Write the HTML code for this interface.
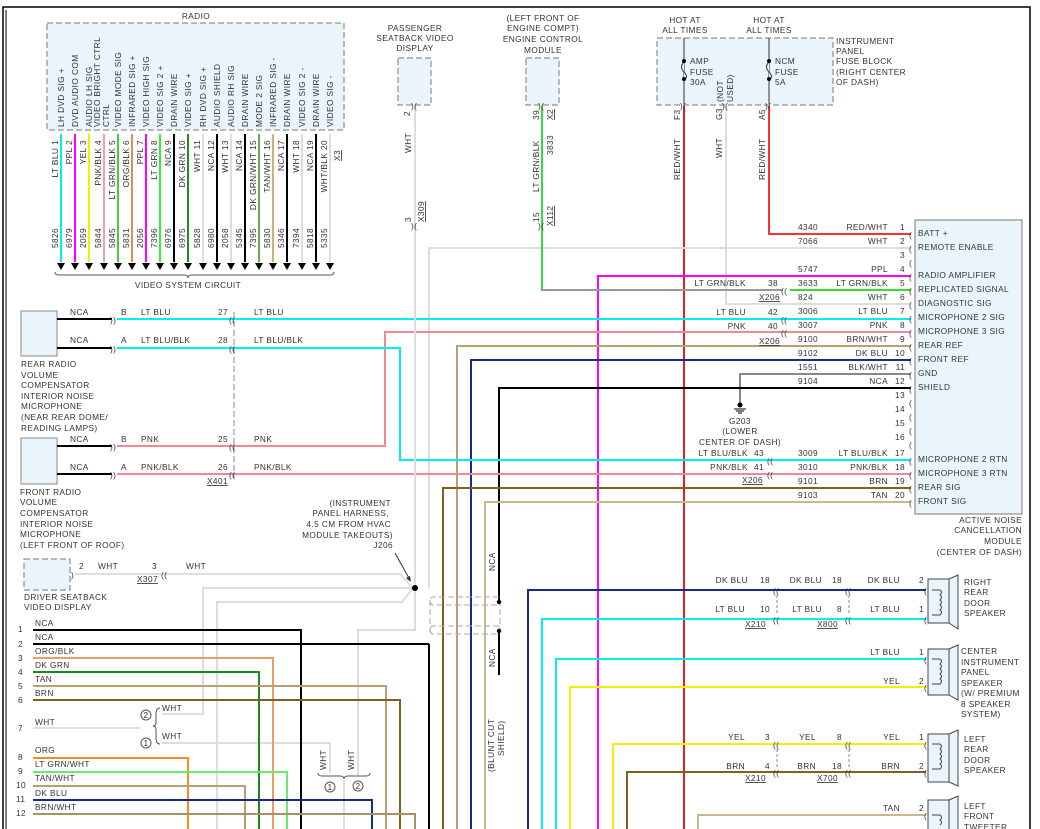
<!DOCTYPE html>
<html><head><meta charset="utf-8"><style>
html,body{margin:0;padding:0;background:#fff}
svg{display:block}
text{font-family:"Liberation Sans",sans-serif;font-size:8.3px;fill:#333;letter-spacing:0.4px}
.w{fill:none;stroke-width:2}
.c{font-size:10px}
</style></head><body>
<svg width="1040" height="829" viewBox="0 0 1040 829" xmlns="http://www.w3.org/2000/svg">
<rect width="1040" height="829" fill="#fff"/>
<!-- frame -->
<path d="M3,829 V7 H1030 V829" fill="none" stroke="#000" stroke-width="1.5"/>
<line x1="6" y1="10" x2="6" y2="829" stroke="#000" stroke-width="1"/>

<!-- RADIO -->
<text x="196" y="19" text-anchor="middle">RADIO</text>
<rect x="47" y="23" width="297" height="107" fill="#eaf5fb" stroke="#777" stroke-dasharray="6,3"/>
<g class="w">
<line x1="61" y1="134" x2="61" y2="262" stroke="#00f0f0"/>
<line x1="75" y1="134" x2="75" y2="262" stroke="#ff00ff"/>
<line x1="89" y1="134" x2="89" y2="262" stroke="#f0f000"/>
<line x1="104" y1="134" x2="104" y2="262" stroke="#f4a0a8"/>
<line x1="118" y1="134" x2="118" y2="262" stroke="#44cc44"/>
<line x1="132" y1="134" x2="132" y2="262" stroke="#e0904a"/>
<line x1="146" y1="134" x2="146" y2="262" stroke="#ff00ff"/>
<line x1="160" y1="134" x2="160" y2="262" stroke="#33ee33"/>
<line x1="174" y1="134" x2="174" y2="262" stroke="#000"/>
<line x1="188" y1="134" x2="188" y2="262" stroke="#228b22"/>
<line x1="203" y1="134" x2="203" y2="262" stroke="#ddd"/>
<line x1="217" y1="134" x2="217" y2="262" stroke="#000"/>
<line x1="231" y1="134" x2="231" y2="262" stroke="#ddd"/>
<line x1="245" y1="134" x2="245" y2="262" stroke="#000"/>
<line x1="259" y1="134" x2="259" y2="262" stroke="#66aa55"/>
<line x1="273" y1="134" x2="273" y2="262" stroke="#c8b080"/>
<line x1="287" y1="134" x2="287" y2="262" stroke="#000"/>
<line x1="302" y1="134" x2="302" y2="262" stroke="#ddd"/>
<line x1="316" y1="134" x2="316" y2="262" stroke="#000"/>
<line x1="330" y1="134" x2="330" y2="262" stroke="#ddd"/>
</g>
<g fill="#000">
<path d="M57,263h8l-4,7z"/><path d="M71,263h8l-4,7z"/><path d="M85,263h8l-4,7z"/><path d="M100,263h8l-4,7z"/><path d="M114,263h8l-4,7z"/><path d="M128,263h8l-4,7z"/><path d="M142,263h8l-4,7z"/><path d="M156,263h8l-4,7z"/><path d="M170,263h8l-4,7z"/><path d="M184,263h8l-4,7z"/><path d="M199,263h8l-4,7z"/><path d="M213,263h8l-4,7z"/><path d="M227,263h8l-4,7z"/><path d="M241,263h8l-4,7z"/><path d="M255,263h8l-4,7z"/><path d="M269,263h8l-4,7z"/><path d="M283,263h8l-4,7z"/><path d="M298,263h8l-4,7z"/><path d="M312,263h8l-4,7z"/><path d="M326,263h8l-4,7z"/>
</g>
<path d="M55,272 q0,3 4,3 H184 q4,0 4,3 q0,-3 4,-3 H330 q4,0 4,-3" fill="none" stroke="#555"/>
<text x="188" y="288" text-anchor="middle">VIDEO SYSTEM CIRCUIT</text>
<g>
<text transform="translate(64,127) rotate(-90)">LH DVD SIG +</text>
<text transform="translate(78,127) rotate(-90)">DVD AUDIO COM</text>
<text transform="translate(92,127) rotate(-90)">AUDIO LH SIG</text>
<text transform="translate(100,127) rotate(-90)">VIDEO BRIGHT CTRL</text>
<text transform="translate(109,127) rotate(-90)">CTRL</text>
<text transform="translate(121,127) rotate(-90)">VIDEO MODE SIG</text>
<text transform="translate(135,127) rotate(-90)">INFRARED SIG +</text>
<text transform="translate(149,127) rotate(-90)">VIDEO HIGH SIG</text>
<text transform="translate(163,127) rotate(-90)">VIDEO SIG 2 +</text>
<text transform="translate(177,127) rotate(-90)">DRAIN WIRE</text>
<text transform="translate(191,127) rotate(-90)">VIDEO SIG +</text>
<text transform="translate(206,127) rotate(-90)">RH DVD SIG +</text>
<text transform="translate(220,127) rotate(-90)">AUDIO SHIELD</text>
<text transform="translate(234,127) rotate(-90)">AUDIO RH SIG</text>
<text transform="translate(248,127) rotate(-90)">DRAIN WIRE</text>
<text transform="translate(262,127) rotate(-90)">MODE 2 SIG</text>
<text transform="translate(276,127) rotate(-90)">INFRARED SIG -</text>
<text transform="translate(290,127) rotate(-90)">DRAIN WIRE</text>
<text transform="translate(305,127) rotate(-90)">VIDEO SIG 2 -</text>
<text transform="translate(319,127) rotate(-90)">DRAIN WIRE</text>
<text transform="translate(333,127) rotate(-90)">VIDEO SIG -</text>
</g>
<g text-anchor="end">
<text transform="translate(58,140) rotate(-90)">LT BLU  1</text>
<text transform="translate(72,140) rotate(-90)">PPL  2</text>
<text transform="translate(86,140) rotate(-90)">YEL  3</text>
<text transform="translate(101,140) rotate(-90)">PNK/BLK  4</text>
<text transform="translate(115,140) rotate(-90)">LT GRN/BLK  5</text>
<text transform="translate(129,140) rotate(-90)">ORG/BLK  6</text>
<text transform="translate(143,140) rotate(-90)">PPL  7</text>
<text transform="translate(157,140) rotate(-90)">LT GRN  8</text>
<text transform="translate(171,140) rotate(-90)">NCA  9</text>
<text transform="translate(185,140) rotate(-90)">DK GRN  10</text>
<text transform="translate(200,140) rotate(-90)">WHT  11</text>
<text transform="translate(214,140) rotate(-90)">NCA  12</text>
<text transform="translate(228,140) rotate(-90)">WHT  13</text>
<text transform="translate(242,140) rotate(-90)">NCA  14</text>
<text transform="translate(256,140) rotate(-90)">DK GRN/WHT  15</text>
<text transform="translate(270,140) rotate(-90)">TAN/WHT  16</text>
<text transform="translate(284,140) rotate(-90)">NCA  17</text>
<text transform="translate(299,140) rotate(-90)">WHT  18</text>
<text transform="translate(313,140) rotate(-90)">NCA  19</text>
<text transform="translate(327,140) rotate(-90)">WHT/BLK  20</text>
<text transform="translate(340,150) rotate(-90)" text-decoration="underline">X3</text>
</g>
<g fill="#7a4a30">
<text transform="translate(58,248) rotate(-90)">5826</text>
<text transform="translate(72,248) rotate(-90)">6979</text>
<text transform="translate(86,248) rotate(-90)">2059</text>
<text transform="translate(101,248) rotate(-90)">5844</text>
<text transform="translate(115,248) rotate(-90)">5845</text>
<text transform="translate(129,248) rotate(-90)">5831</text>
<text transform="translate(143,248) rotate(-90)">2056</text>
<text transform="translate(157,248) rotate(-90)">7396</text>
<text transform="translate(171,248) rotate(-90)">6976</text>
<text transform="translate(185,248) rotate(-90)">6975</text>
<text transform="translate(200,248) rotate(-90)">5828</text>
<text transform="translate(214,248) rotate(-90)">6980</text>
<text transform="translate(228,248) rotate(-90)">2058</text>
<text transform="translate(242,248) rotate(-90)">5345</text>
<text transform="translate(256,248) rotate(-90)">7395</text>
<text transform="translate(270,248) rotate(-90)">5830</text>
<text transform="translate(284,248) rotate(-90)">5346</text>
<text transform="translate(299,248) rotate(-90)">7394</text>
<text transform="translate(313,248) rotate(-90)">5818</text>
<text transform="translate(327,248) rotate(-90)">5335</text>
</g>

<!-- Passenger seatback -->
<text x="415" y="31" text-anchor="middle">PASSENGER</text>
<text x="415" y="41" text-anchor="middle">SEATBACK VIDEO</text>
<text x="415" y="51" text-anchor="middle">DISPLAY</text>
<rect x="398" y="58" width="33" height="47" fill="#eaf5fb" stroke="#777" stroke-dasharray="6,3"/>
<text x="410" y="116" transform="rotate(-90 410 116)">2</text>
<text transform="translate(411,153) rotate(-90)">WHT</text>
<text transform="translate(411,222) rotate(-90)">3</text>
<text transform="translate(424,222) rotate(-90)" text-decoration="underline">X309</text>
<!-- ECM -->
<text x="543" y="21" text-anchor="middle">(LEFT FRONT OF</text>
<text x="543" y="31" text-anchor="middle">ENGINE COMPT)</text>
<text x="543" y="42" text-anchor="middle">ENGINE CONTROL</text>
<text x="543" y="53" text-anchor="middle">MODULE</text>
<rect x="526" y="58" width="33" height="47" fill="#eaf5fb" stroke="#777" stroke-dasharray="6,3"/>
<text transform="translate(539,120) rotate(-90)">39</text>
<text transform="translate(553,120) rotate(-90)" text-decoration="underline">X2</text>
<text transform="translate(539,192) rotate(-90)">LT GRN/BLK</text>
<text transform="translate(553,155) rotate(-90)">3833</text>
<text transform="translate(539,222) rotate(-90)">15</text>
<text transform="translate(553,226) rotate(-90)" text-decoration="underline">X112</text>
<!-- Fuse block -->
<text x="685" y="23" text-anchor="middle">HOT AT</text>
<text x="685" y="33" text-anchor="middle">ALL TIMES</text>
<text x="769" y="23" text-anchor="middle">HOT AT</text>
<text x="769" y="33" text-anchor="middle">ALL TIMES</text>
<rect x="657" y="38" width="176" height="67" fill="#eaf5fb" stroke="#777" stroke-dasharray="6,3"/>
<line x1="684" y1="38" x2="684" y2="104" stroke="#333"/>
<line x1="769" y1="38" x2="769" y2="104" stroke="#333"/>
<path d="M684,62 q-5,5 0,10 q5,5 0,8" fill="#eaf5fb" stroke="#333"/>
<path d="M769,62 q-5,5 0,10 q5,5 0,8" fill="#eaf5fb" stroke="#333"/>
<circle cx="684" cy="61" r="2" fill="#000"/><circle cx="684" cy="79" r="2" fill="#000"/>
<circle cx="769" cy="61" r="2" fill="#000"/><circle cx="769" cy="79" r="2" fill="#000"/>
<text x="690" y="64">AMP</text><text x="690" y="75">FUSE</text><text x="690" y="85">30A</text>
<text x="775" y="64">NCM</text><text x="775" y="75">FUSE</text><text x="775" y="85">5A</text>
<text transform="translate(723,102) rotate(-90)">(NOT</text>
<text transform="translate(733,102) rotate(-90)">USED)</text>
<text x="836" y="44">INSTRUMENT</text><text x="836" y="54">PANEL</text><text x="836" y="64">FUSE BLOCK</text><text x="836" y="75">(RIGHT CENTER</text><text x="836" y="85">OF DASH)</text>
<text transform="translate(680,120) rotate(-90)">F3</text>
<text transform="translate(680,180) rotate(-90)">RED/WHT</text>
<text transform="translate(722,120) rotate(-90)">G3</text>
<text transform="translate(722,158) rotate(-90)">WHT</text>
<text transform="translate(765,120) rotate(-90)">A5</text>
<text transform="translate(765,180) rotate(-90)">RED/WHT</text>

<!-- ANC module -->
<rect x="915" y="220" width="107" height="294" fill="#eaf5fb" stroke="#777"/>
<g class="w">
<path d="M769,106 V234 H911" stroke="#ff3030"/>
<path d="M684,106 V829" stroke="#e02020"/>
<path d="M726,106 V304 H911" stroke="#ddd"/>
<path d="M429,829 V644" stroke="#000"/>
<path d="M429,588 V248 H911" stroke="#ddd"/>
<path d="M598,829 V276 H911" stroke="#ff00ff"/>
<path d="M542,106 V290 H783" stroke="#33dd33"/>
<path d="M542,290 H783" stroke="#999"/>
<path d="M790,290 H911" stroke="#33dd33"/>
<path d="M117,319 H911" stroke="#00f0f0"/>
<path d="M117,446 H385 V332 H911" stroke="#f08898"/>
<path d="M457,829 V346 H911" stroke="#b8a070"/>
<path d="M471,829 V360 H911" stroke="#1a2a8a"/>
<path d="M740,404 V374 H911" stroke="#888"/>
<path d="M499,602 V388 H911" stroke="#000"/>
<path d="M117,348 H400 V460 H911" stroke="#00f0f0"/>
<path d="M117,474 H911" stroke="#f08898"/>
<path d="M443,829 V488 H911" stroke="#806020"/>
<path d="M485,829 V502 H911" stroke="#c8b88a"/>
</g>
<g class="c" fill="#444">
<text x="909" y="238">(</text><text x="909" y="252">(</text><text x="909" y="266">(</text><text x="909" y="280">(</text><text x="909" y="294">(</text><text x="909" y="308">(</text><text x="909" y="322">(</text><text x="909" y="336">(</text><text x="909" y="350">(</text><text x="909" y="364">(</text><text x="909" y="378">(</text><text x="909" y="392">(</text><text x="909" y="406">(</text><text x="909" y="420">(</text><text x="909" y="434">(</text><text x="909" y="448">(</text><text x="909" y="464">(</text><text x="909" y="478">(</text><text x="909" y="492">(</text><text x="909" y="506">(</text>
<text x="781" y="294">((</text><text x="781" y="323">((</text><text x="781" y="336">((</text><text x="767" y="464">((</text><text x="767" y="478">((</text>
</g>
<g>
<text x="918" y="236">BATT +</text><text x="918" y="250">REMOTE ENABLE</text><text x="918" y="278">RADIO AMPLIFIER</text><text x="918" y="292">REPLICATED SIGNAL</text><text x="918" y="306">DIAGNOSTIC SIG</text><text x="918" y="320">MICROPHONE 2 SIG</text><text x="918" y="334">MICROPHONE 3 SIG</text><text x="918" y="348">REAR REF</text><text x="918" y="362">FRONT REF</text><text x="918" y="376">GND</text><text x="918" y="390">SHIELD</text><text x="918" y="462">MICROPHONE 2 RTN</text><text x="918" y="476">MICROPHONE 3 RTN</text><text x="918" y="490">REAR SIG</text><text x="918" y="504">FRONT SIG</text>
</g>
<g text-anchor="end">
<text x="905" y="230">1</text><text x="905" y="244">2</text><text x="905" y="258">3</text><text x="905" y="272">4</text><text x="905" y="286">5</text><text x="905" y="300">6</text><text x="905" y="314">7</text><text x="905" y="328">8</text><text x="905" y="342">9</text><text x="905" y="356">10</text><text x="905" y="370">11</text><text x="905" y="384">12</text><text x="905" y="398">13</text><text x="905" y="412">14</text><text x="905" y="426">15</text><text x="905" y="440">16</text><text x="905" y="456">17</text><text x="905" y="470">18</text><text x="905" y="484">19</text><text x="905" y="498">20</text>
<text x="888" y="230">RED/WHT</text><text x="888" y="244">WHT</text><text x="888" y="272">PPL</text><text x="888" y="286">LT GRN/BLK</text><text x="888" y="300">WHT</text><text x="888" y="314">LT BLU</text><text x="888" y="328">PNK</text><text x="888" y="342">BRN/WHT</text><text x="888" y="356">DK BLU</text><text x="888" y="370">BLK/WHT</text><text x="888" y="384">NCA</text><text x="888" y="456">LT BLU/BLK</text><text x="888" y="470">PNK/BLK</text><text x="888" y="484">BRN</text><text x="888" y="498">TAN</text>
<text x="1022" y="523">ACTIVE NOISE</text><text x="1022" y="533">CANCELLATION</text><text x="1022" y="544">MODULE</text><text x="1022" y="555">(CENTER OF DASH)</text>
<text x="778" y="286">38</text><text x="778" y="315">42</text><text x="778" y="329">40</text><text x="764" y="456">43</text><text x="764" y="470">41</text>
<text x="746" y="286">LT GRN/BLK</text><text x="746" y="315">LT BLU</text><text x="746" y="329">PNK</text><text x="748" y="456">LT BLU/BLK</text><text x="748" y="470">PNK/BLK</text>
</g>
<g>
<text x="798" y="230">4340</text><text x="798" y="244">7066</text><text x="798" y="272">5747</text><text x="798" y="286">3633</text><text x="798" y="300">824</text><text x="798" y="314">3006</text><text x="798" y="328">3007</text><text x="798" y="342">9100</text><text x="798" y="356">9102</text><text x="798" y="370">1551</text><text x="798" y="384">9104</text><text x="798" y="456">3009</text><text x="798" y="470">3010</text><text x="798" y="484">9101</text><text x="798" y="498">9103</text>
<text x="759" y="300" text-decoration="underline">X206</text><text x="759" y="344" text-decoration="underline">X206</text><text x="742" y="483" text-decoration="underline">X206</text>
</g>
<!-- ground -->
<circle cx="740" cy="405" r="2.5" fill="#000"/>
<path d="M734,409h12M736,411h8M738,413h4" stroke="#000"/>
<text x="740" y="424" text-anchor="middle">G203</text><text x="740" y="434" text-anchor="middle">(LOWER</text><text x="740" y="445" text-anchor="middle">CENTER OF DASH)</text>

<!-- microphones -->
<rect x="21" y="311" width="36" height="45" fill="#eaf5fb" stroke="#888"/>
<rect x="21" y="438" width="36" height="46" fill="#eaf5fb" stroke="#888"/>
<g class="w" stroke="#000"><path d="M57,319H112M57,348H112M57,446H112M57,474H112"/></g>
<line x1="234" y1="312" x2="234" y2="478" stroke="#888" stroke-dasharray="6,3"/>
<g class="c"><text x="110" y="323">))</text><text x="110" y="352">))</text><text x="110" y="450">))</text><text x="110" y="478">))</text>
<text x="229" y="323">((</text><text x="229" y="352">((</text><text x="229" y="450">((</text><text x="229" y="478">((</text></g>
<g>
<text x="70" y="315">NCA</text><text x="70" y="343">NCA</text><text x="70" y="442">NCA</text><text x="70" y="470">NCA</text>
<text x="121" y="315">B</text><text x="121" y="343">A</text><text x="121" y="442">B</text><text x="121" y="470">A</text>
<text x="141" y="315">LT BLU</text><text x="141" y="343">LT BLU/BLK</text><text x="141" y="442">PNK</text><text x="141" y="470">PNK/BLK</text>
<text x="218" y="315">27</text><text x="218" y="343">28</text><text x="218" y="442">25</text><text x="218" y="470">26</text>
<text x="254" y="315">LT BLU</text><text x="254" y="343">LT BLU/BLK</text><text x="254" y="442">PNK</text><text x="254" y="470">PNK/BLK</text>
<text x="207" y="484" text-decoration="underline">X401</text>
<text x="21" y="367">REAR RADIO</text><text x="21" y="378">VOLUME</text><text x="21" y="388">COMPENSATOR</text><text x="21" y="399">INTERIOR NOISE</text><text x="21" y="409">MICROPHONE</text><text x="21" y="420">(NEAR REAR DOME/</text><text x="21" y="431">READING LAMPS)</text>
<text x="20" y="495">FRONT RADIO</text><text x="20" y="505">VOLUME</text><text x="20" y="516">COMPENSATOR</text><text x="20" y="527">INTERIOR NOISE</text><text x="20" y="537">MICROPHONE</text><text x="20" y="548">(LEFT FRONT OF ROOF)</text>
</g>
<g text-anchor="end">
<text x="391" y="506">(INSTRUMENT</text><text x="389" y="516">PANEL HARNESS,</text><text x="391" y="527">4.5 CM FROM HVAC</text><text x="393" y="538">MODULE TAKEOUTS)</text><text x="393" y="548">J206</text>
</g>
<path d="M395,553 L410,580" stroke="#333"/><path d="M411,582 l-5,-4 l4,-2z" fill="#333"/>

<!-- driver seatback + J206 wiring -->
<rect x="24" y="559" width="46" height="31" fill="#eaf5fb" stroke="#777" stroke-dasharray="6,3"/>
<text x="24" y="600">DRIVER SEATBACK</text><text x="24" y="610">VIDEO DISPLAY</text>
<g class="w" stroke="#ddd">
<path d="M75,574 H400 L413,588"/>
<path d="M415,106 V630 H358 V775"/>
<path d="M415,588 H203 V714 H162"/>
<path d="M413,588 L402,602 H217 V829"/>
<path d="M33,728 H140"/>
<path d="M162,743 H330 V773"/>
<path d="M344,780 V829"/>
</g>
<circle cx="415" cy="588" r="3" fill="#000"/>
<g class="c"><text x="71" y="578">)</text><text x="161" y="578">((</text><text x="411" y="109">)(</text><text x="538" y="109">)(</text><text x="411" y="229">)(</text><text x="538" y="229">)(</text><text x="680" y="109">)(</text><text x="722" y="109">)(</text><text x="765" y="109">)(</text></g>
<text x="79" y="569">2</text><text x="98" y="569">WHT</text><text x="152" y="569">3</text><text x="186" y="569">WHT</text>
<text x="137" y="582" text-decoration="underline">X307</text>

<!-- left bottom wires -->
<g class="w">
<path d="M33,630 H301 V829" stroke="#000"/>
<path d="M33,644 H429" stroke="#000"/>
<path d="M33,658 H273 V829" stroke="#e8a060"/>
<path d="M33,672 H259 V829" stroke="#1a8a1a"/>
<path d="M33,686 H386 V829" stroke="#b8a070"/>
<path d="M33,700 H400 V829" stroke="#806020"/>
<path d="M33,758 H188 V829" stroke="#ff8c1a"/>
<path d="M33,772 H287 V829" stroke="#66ee66"/>
<path d="M33,786 H245 V829" stroke="#b8a070"/>
<path d="M33,800 H372 V829" stroke="#1a2a8a"/>
<path d="M33,814 H415 V829" stroke="#a89060"/>
</g>
<g>
<text x="18" y="632">1</text><text x="18" y="647">2</text><text x="18" y="661">3</text><text x="18" y="675">4</text><text x="18" y="689">5</text><text x="18" y="703">6</text><text x="18" y="731">7</text><text x="18" y="760">8</text><text x="18" y="774">9</text><text x="16" y="788">10</text><text x="16" y="802">11</text><text x="16" y="816">12</text>
<text x="35" y="626">NCA</text><text x="35" y="640">NCA</text><text x="35" y="654">ORG/BLK</text><text x="35" y="668">DK GRN</text><text x="35" y="682">TAN</text><text x="35" y="696">BRN</text><text x="35" y="725">WHT</text><text x="35" y="753">ORG</text><text x="35" y="767">LT GRN/WHT</text><text x="35" y="781">TAN/WHT</text><text x="35" y="796">DK BLU</text><text x="35" y="810">BRN/WHT</text>
<text x="162" y="711">WHT</text><text x="162" y="739">WHT</text>
</g>
<circle cx="146" cy="715" r="5" fill="none" stroke="#555"/><text x="143.5" y="718" font-size="7">2</text>
<circle cx="146" cy="743" r="5" fill="none" stroke="#555"/><text x="143.5" y="746" font-size="7">1</text>
<path d="M160,708 q-4,0 -4,6 v8 q0,4 -3,4 q3,0 3,4 v8 q0,6 4,6" fill="none" stroke="#555"/>
<text transform="translate(326,770) rotate(-90)">WHT</text><text transform="translate(354,770) rotate(-90)">WHT</text>
<path d="M318,773 q0,3 4,3 h18 q4,0 4,3 q0,-3 4,-3 h18 q4,0 4,-3" fill="none" stroke="#555"/>
<circle cx="330" cy="787" r="5" fill="none" stroke="#555"/><text x="327.5" y="790" font-size="7">1</text>
<circle cx="358" cy="786" r="5" fill="none" stroke="#555"/><text x="355.5" y="789" font-size="7">2</text>

<!-- shield -->
<g fill="none" stroke="#aaa" stroke-dasharray="6,3">
<path d="M499,597 H432 Q428,600 432,605 H499"/><path d="M499,626 H432 Q428,630 432,634 H499"/>
<path d="M430,600 V632 M500,600 V632"/>
</g>
<path class="w" d="M499,631 V675" stroke="#000"/>
<circle cx="499" cy="602" r="2.2" fill="#000"/><circle cx="499" cy="631" r="2.2" fill="#000"/>
<text transform="translate(495,571) rotate(-90)">NCA</text>
<text transform="translate(495,667) rotate(-90)">NCA</text>
<text transform="translate(494,772) rotate(-90)">(BLUNT CUT</text>
<text transform="translate(504,756) rotate(-90)">SHIELD)</text>

<!-- right bottom speakers wiring -->
<g class="w">
<path d="M528,829 V590 H926" stroke="#1a2a8a"/>
<path d="M542,829 V619 H926" stroke="#00f0f0"/>
<path d="M556,829 V659 H926" stroke="#00f0f0"/>
<path d="M570,829 V687 H926" stroke="#f0f000"/>
<path d="M613,829 V744 H926" stroke="#f0f000"/>
<path d="M627,829 V772 H926" stroke="#806020"/>
<path d="M698,829 V815 H926" stroke="#c8b88a"/>
</g>
<line x1="777" y1="595" x2="777" y2="615" stroke="#888" stroke-dasharray="3,2"/>
<line x1="849" y1="595" x2="849" y2="615" stroke="#888" stroke-dasharray="3,2"/>
<line x1="777" y1="749" x2="777" y2="768" stroke="#888" stroke-dasharray="3,2"/>
<line x1="849" y1="749" x2="849" y2="768" stroke="#888" stroke-dasharray="3,2"/>
<g class="c">
<text x="773" y="594">((</text><text x="773" y="623">((</text><text x="845" y="594">((</text><text x="845" y="623">((</text>
<text x="773" y="748">((</text><text x="773" y="776">((</text><text x="845" y="748">((</text><text x="845" y="776">((</text>
<text x="924" y="594">(</text><text x="924" y="623">(</text><text x="924" y="663">(</text><text x="924" y="691">(</text><text x="924" y="748">(</text><text x="924" y="776">(</text><text x="924" y="819">(</text>
</g>
<g text-anchor="end">
<text x="748" y="583">DK BLU</text><text x="770" y="583">18</text><text x="822" y="583">DK BLU</text><text x="842" y="583">18</text><text x="900" y="583">DK BLU</text><text x="924" y="583">2</text>
<text x="745" y="612">LT BLU</text><text x="770" y="612">10</text><text x="822" y="612">LT BLU</text><text x="842" y="612">8</text><text x="900" y="612">LT BLU</text><text x="924" y="612">1</text>
<text x="900" y="655">LT BLU</text><text x="924" y="655">1</text>
<text x="900" y="684">YEL</text><text x="924" y="684">2</text>
<text x="745" y="740">YEL</text><text x="770" y="740">3</text><text x="816" y="740">YEL</text><text x="842" y="740">8</text><text x="900" y="740">YEL</text><text x="924" y="740">1</text>
<text x="745" y="769">BRN</text><text x="770" y="769">4</text><text x="816" y="769">BRN</text><text x="842" y="769">18</text><text x="900" y="769">BRN</text><text x="924" y="769">2</text>
<text x="900" y="811">TAN</text><text x="924" y="811">2</text>
</g>
<text x="745" y="627" text-decoration="underline">X210</text><text x="817" y="627" text-decoration="underline">X800</text>
<text x="745" y="781" text-decoration="underline">X210</text><text x="817" y="781" text-decoration="underline">X700</text>
<g fill="#eaf5fb" stroke="#444">
<rect x="928" y="579" width="21" height="44"/><path d="M949,579 L958,575 V629 L949,623z"/>
<rect x="928" y="649" width="21" height="46"/><path d="M949,649 L958,645 V700 L949,695z"/>
<rect x="928" y="734" width="21" height="48"/><path d="M949,734 L958,730 V786 L949,782z"/>
<rect x="928" y="800" width="21" height="40"/><path d="M949,800 L958,796 V840 L949,836z"/>
</g>
<g fill="none" stroke="#444">
<path d="M932,590 h8 q3,2 0,5 q3,2 0,5 q3,2 0,5 q3,2 0,5 q3,2 0,5 h-8"/>
<path d="M932,659 h8 q3,2 0,5 q3,2 0,5 q3,2 0,5 q3,2 0,5 q3,2 0,5 h-8"/>
<path d="M932,744 h8 q3,2 0,5 q3,2 0,5 q3,2 0,5 q3,2 0,5 q3,2 0,5 h-8"/>
<path d="M932,815 h8 q3,2 0,5 q3,2 0,5"/>
</g>
<g>
<text x="964" y="585">RIGHT</text><text x="964" y="595">REAR</text><text x="964" y="606">DOOR</text><text x="964" y="616">SPEAKER</text>
<text x="961" y="654">CENTER</text><text x="961" y="665">INSTRUMENT</text><text x="961" y="675">PANEL</text><text x="961" y="686">SPEAKER</text><text x="961" y="696">(W/ PREMIUM</text><text x="961" y="707">8 SPEAKER</text><text x="961" y="717">SYSTEM)</text>
<text x="964" y="742">LEFT</text><text x="964" y="752">REAR</text><text x="964" y="763">DOOR</text><text x="964" y="773">SPEAKER</text>
<text x="964" y="809">LEFT</text><text x="964" y="819">FRONT</text><text x="964" y="830">TWEETER</text>
</g>
</svg>
</body></html>
